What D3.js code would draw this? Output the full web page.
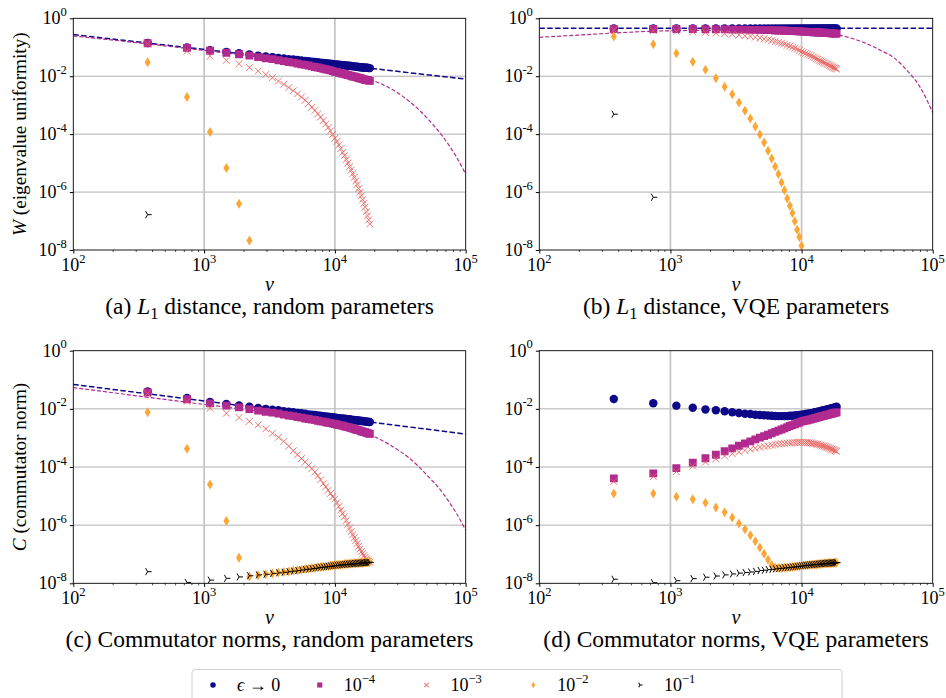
<!DOCTYPE html>
<html>
<head>
<meta charset="utf-8">
<script src="https://cdn.jsdelivr.net/npm/d3@7"></script>
</head>
<body style="margin:0">
<svg width="946" height="698"></svg>
<script>
// nu values (x axis), one per data point
const nu = [370, 740, 1110, 1480, 1850, 2220, 2590, 2960, 3330, 3700, 4070, 4440, 4810, 5180, 5550,
  5920, 6290, 6660, 7030, 7400, 7770, 8140, 8510, 8880, 9250, 9620, 9990, 10360, 10730, 11100,
  11470, 11840, 12210, 12580, 12950, 13320, 13690, 14060, 14430, 14800, 15170, 15540, 15910,
  16280, 16650, 17020, 17390, 17760, 18130, 18500];

// all y values are log10 of the plotted quantity; points below 10^-8 are not listed
// (a) L1 distance, random parameters
const aEps0 = [-0.85, -1.01, -1.10, -1.16, -1.21, -1.25, -1.29, -1.32, -1.34, -1.37, -1.39, -1.41, -1.42, -1.44, -1.46,
  -1.47, -1.48, -1.50, -1.51, -1.52, -1.53, -1.54, -1.55, -1.56, -1.57, -1.58, -1.59, -1.59, -1.60, -1.61,
  -1.62, -1.62, -1.63, -1.64, -1.64, -1.65, -1.66, -1.66, -1.67, -1.67, -1.68, -1.69, -1.69, -1.70, -1.70,
  -1.71, -1.71, -1.71, -1.72, -1.72];
const aE4 = [-0.86, -1.02, -1.12, -1.19, -1.24, -1.29, -1.34, -1.38, -1.41, -1.45, -1.48, -1.51, -1.53, -1.56, -1.59,
  -1.61, -1.63, -1.66, -1.68, -1.70, -1.72, -1.74, -1.76, -1.78, -1.80, -1.82, -1.85, -1.86, -1.88, -1.90,
  -1.91, -1.92, -1.94, -1.96, -1.97, -1.99, -2.01, -2.01, -2.03, -2.04, -2.06, -2.07, -2.08, -2.10, -2.11,
  -2.12, -2.13, -2.13, -2.15, -2.16];
const aE3 = [-0.88, -1.14, -1.31, -1.45, -1.57, -1.70, -1.82, -1.94, -2.05, -2.17, -2.28, -2.39, -2.50, -2.61, -2.72,
  -2.83, -2.94, -3.07, -3.18, -3.30, -3.41, -3.53, -3.65, -3.77, -3.89, -4.01, -4.14, -4.25, -4.37, -4.50,
  -4.63, -4.74, -4.87, -5.00, -5.12, -5.24, -5.37, -5.49, -5.62, -5.74, -5.88, -6.01, -6.13, -6.26, -6.39,
  -6.52, -6.68, -6.82, -6.96, -7.10];
const aE2 = [-1.52, -2.72, -3.93, -5.17, -6.40, -7.67];
const aE1 = [-6.78];
const aFitEps0Nu = [2, 5], aFitEps0 = [-0.563, -2.10];
const aFitE4Nu = [2, 2.5, 3, 3.5, 3.8, 4.0, 4.15, 4.29, 4.443, 4.57, 4.698, 4.824, 4.927, 5.0];
const aFitE4 = [-0.61, -0.85, -1.11, -1.39, -1.62, -1.84, -1.99, -2.15, -2.47, -2.87, -3.41, -4.08, -4.77, -5.38];

// (b) L1 distance, VQE parameters
const bEps0 = [-0.35, -0.35, -0.35, -0.35, -0.35, -0.35, -0.35, -0.35, -0.35, -0.35, -0.35, -0.35, -0.35, -0.35, -0.35,
  -0.35, -0.35, -0.35, -0.35, -0.35, -0.35, -0.35, -0.35, -0.35, -0.35, -0.35, -0.35, -0.35, -0.35, -0.35,
  -0.35, -0.35, -0.35, -0.35, -0.35, -0.35, -0.35, -0.35, -0.35, -0.35, -0.35, -0.35, -0.35, -0.35, -0.35,
  -0.35, -0.35, -0.35, -0.35, -0.35];
const bE4 = [-0.37, -0.37, -0.37, -0.37, -0.38, -0.38, -0.38, -0.39, -0.39, -0.39, -0.40, -0.40, -0.40, -0.41, -0.41,
  -0.41, -0.42, -0.42, -0.42, -0.43, -0.43, -0.44, -0.44, -0.44, -0.45, -0.45, -0.46, -0.46, -0.46, -0.47,
  -0.47, -0.47, -0.48, -0.48, -0.48, -0.49, -0.49, -0.49, -0.50, -0.50, -0.50, -0.51, -0.51, -0.51, -0.52,
  -0.52, -0.52, -0.53, -0.53, -0.53];
const bE3 = [-0.40, -0.43, -0.45, -0.47, -0.49, -0.51, -0.53, -0.55, -0.58, -0.60, -0.62, -0.65, -0.68, -0.71, -0.74,
  -0.77, -0.80, -0.83, -0.86, -0.89, -0.93, -0.96, -1.00, -1.03, -1.07, -1.11, -1.15, -1.18, -1.21, -1.24,
  -1.27, -1.30, -1.33, -1.36, -1.39, -1.42, -1.45, -1.48, -1.50, -1.53, -1.55, -1.58, -1.60, -1.63, -1.65,
  -1.67, -1.69, -1.71, -1.73, -1.75];
const bE2 = [-0.63, -0.90, -1.21, -1.50, -1.78, -2.07, -2.36, -2.62, -2.91, -3.19, -3.46, -3.74, -4.01, -4.29, -4.57,
  -4.84, -5.12, -5.38, -5.67, -5.94, -6.22, -6.47, -6.72, -7.01, -7.30, -7.55, -7.85];
const bE1 = [-3.31, -6.18];
const bFitEps0Nu = [2, 5], bFitEps0 = [-0.345, -0.345];
const bFitE4Nu = [2, 2.3, 2.6, 3.0, 3.5, 4.0, 4.27, 4.35, 4.5, 4.6, 4.7, 4.8, 4.9, 5.0];
const bFitE4 = [-0.655, -0.58, -0.50, -0.43, -0.41, -0.46, -0.56, -0.65, -0.88, -1.10, -1.35, -1.78, -2.35, -3.25];

// (c) Commutator norms, random parameters
const cEps0 = [-1.40, -1.63, -1.76, -1.83, -1.88, -1.93, -1.97, -2.00, -2.03, -2.05, -2.08, -2.10, -2.12, -2.14, -2.15,
  -2.17, -2.19, -2.20, -2.21, -2.23, -2.24, -2.25, -2.26, -2.27, -2.28, -2.29, -2.30, -2.31, -2.32, -2.33,
  -2.33, -2.34, -2.35, -2.36, -2.36, -2.37, -2.38, -2.38, -2.39, -2.40, -2.40, -2.41, -2.42, -2.42, -2.43,
  -2.43, -2.44, -2.44, -2.45, -2.45];
const cE4 = [-1.43, -1.67, -1.81, -1.89, -1.95, -2.01, -2.06, -2.10, -2.13, -2.16, -2.20, -2.23, -2.25, -2.28, -2.30,
  -2.33, -2.35, -2.37, -2.38, -2.41, -2.43, -2.44, -2.46, -2.48, -2.49, -2.51, -2.52, -2.54, -2.56, -2.57,
  -2.58, -2.60, -2.62, -2.63, -2.64, -2.66, -2.68, -2.69, -2.71, -2.72, -2.73, -2.75, -2.77, -2.78, -2.79,
  -2.80, -2.82, -2.83, -2.85, -2.86];
const cE3 = [-1.47, -1.75, -1.98, -2.15, -2.30, -2.43, -2.55, -2.69, -2.84, -2.98, -3.12, -3.28, -3.44, -3.58, -3.71,
  -3.83, -3.95, -4.06, -4.17, -4.30, -4.44, -4.57, -4.68, -4.80, -4.91, -5.02, -5.10, -5.23, -5.36, -5.48,
  -5.60, -5.71, -5.84, -5.97, -6.10, -6.22, -6.33, -6.43, -6.53, -6.63, -6.73, -6.82, -6.91, -6.98, -7.05,
  -7.11, -7.16, -7.20, -7.24, -7.28];
const cE2 = [-2.12, -3.37, -4.60, -5.86, -7.12, -7.77, -7.72, -7.69, -7.66, -7.63, -7.61, -7.59, -7.57, -7.55, -7.53,
  -7.51, -7.50, -7.48, -7.47, -7.45, -7.44, -7.43, -7.42, -7.41, -7.40, -7.39, -7.38, -7.37, -7.36, -7.36,
  -7.35, -7.34, -7.34, -7.33, -7.33, -7.32, -7.32, -7.31, -7.31, -7.30, -7.30, -7.30, -7.29, -7.29, -7.29,
  -7.28, -7.28, -7.28, -7.27, -7.27];
const cE1 = [-7.60, -7.97, -7.89, -7.83, -7.78, -7.74, -7.71, -7.69, -7.66, -7.64, -7.62, -7.60, -7.58, -7.56, -7.54,
  -7.52, -7.51, -7.49, -7.48, -7.46, -7.45, -7.44, -7.43, -7.42, -7.41, -7.40, -7.39, -7.38, -7.37, -7.37,
  -7.36, -7.35, -7.35, -7.34, -7.34, -7.33, -7.33, -7.32, -7.32, -7.31, -7.31, -7.31, -7.30, -7.30, -7.30,
  -7.29, -7.29, -7.29, -7.28, -7.28];
const cFitEps0Nu = [2, 5], cFitEps0 = [-1.16, -2.87];
const cFitE4Nu = [2, 2.5, 3, 3.5, 4.0, 4.15, 4.29, 4.443, 4.57, 4.698, 4.824, 4.927, 5.0];
const cFitE4 = [-1.27, -1.56, -1.85, -2.13, -2.50, -2.68, -2.93, -3.30, -3.70, -4.25, -4.89, -5.58, -6.17];

// (d) Commutator norms, VQE parameters
const dEps0 = [-1.66, -1.81, -1.89, -1.96, -2.02, -2.05, -2.08, -2.12, -2.14, -2.17, -2.18, -2.20, -2.21, -2.22, -2.23,
  -2.24, -2.245, -2.25, -2.25, -2.25, -2.25, -2.24, -2.235, -2.23, -2.22, -2.21, -2.20, -2.19, -2.18, -2.17,
  -2.16, -2.15, -2.14, -2.12, -2.11, -2.10, -2.09, -2.07, -2.06, -2.05, -2.04, -2.02, -2.01, -2.00, -1.99,
  -1.98, -1.97, -1.96, -1.94, -1.93];
const dE4 = [-4.39, -4.22, -4.04, -3.85, -3.70, -3.58, -3.46, -3.36, -3.27, -3.19, -3.12, -3.05, -2.99, -2.94, -2.89,
  -2.84, -2.79, -2.75, -2.71, -2.67, -2.63, -2.59, -2.56, -2.53, -2.50, -2.47, -2.44, -2.42, -2.40, -2.39,
  -2.37, -2.36, -2.34, -2.32, -2.31, -2.29, -2.28, -2.26, -2.25, -2.24, -2.22, -2.21, -2.20, -2.19, -2.18,
  -2.16, -2.15, -2.14, -2.13, -2.12];
const dE3 = [-4.50, -4.33, -4.16, -3.97, -3.83, -3.72, -3.62, -3.54, -3.48, -3.43, -3.39, -3.35, -3.32, -3.29, -3.27,
  -3.25, -3.23, -3.21, -3.20, -3.19, -3.18, -3.17, -3.165, -3.16, -3.155, -3.15, -3.15, -3.15, -3.155, -3.16,
  -3.17, -3.18, -3.19, -3.20, -3.21, -3.22, -3.24, -3.25, -3.27, -3.28, -3.30, -3.32, -3.33, -3.35, -3.37,
  -3.39, -3.40, -3.42, -3.44, -3.46];
const dE2 = [-4.91, -4.91, -5.02, -5.11, -5.23, -5.39, -5.56, -5.74, -5.94, -6.14, -6.35, -6.55, -6.77, -6.98, -7.19,
  -7.37, -7.46, -7.47, -7.47, -7.46, -7.46, -7.45, -7.44, -7.43, -7.42, -7.41, -7.40, -7.39, -7.38, -7.38,
  -7.37, -7.36, -7.36, -7.35, -7.35, -7.34, -7.34, -7.33, -7.33, -7.32, -7.32, -7.31, -7.31, -7.31, -7.30,
  -7.30, -7.30, -7.29, -7.29, -7.29];
const dE1 = [-7.86, -7.98, -7.91, -7.84, -7.79, -7.75, -7.71, -7.68, -7.65, -7.63, -7.61, -7.59, -7.56, -7.55, -7.53,
  -7.52, -7.50, -7.49, -7.48, -7.47, -7.46, -7.45, -7.44, -7.43, -7.42, -7.41, -7.40, -7.39, -7.38, -7.38,
  -7.37, -7.36, -7.36, -7.35, -7.35, -7.34, -7.34, -7.33, -7.33, -7.32, -7.32, -7.31, -7.31, -7.31, -7.30,
  -7.30, -7.30, -7.30, -7.29, -7.29];

// axis tick exponents and legend labels
const xTickExp = [2, 3, 4, 5];
const yTickExp = [0, -2, -4, -6, -8];
const legendExp = [null, "\u22124", "\u22123", "\u22122", "\u22121"];

const svg = d3.select("svg");
const defs = svg.append("defs");

// marker styles, in the order epsilon -> 0, 1e-4, 1e-3, 1e-2, 1e-1
const markers = [
  { color: "#0d0887", path: d3.symbol(d3.symbolCircle, 56)(), filled: true },
  { color: "#b12a90", path: d3.symbol(d3.symbolSquare, 62)(), filled: true },
  { color: "#e8605c", path: "M-3.4,-3.4L3.4,3.4M-3.4,3.4L3.4,-3.4", filled: false, opacity: 0.85 },
  { color: "#fca636", path: "M0,-5L3,0L0,5L-3,0Z", filled: true },
  { color: "#000000", path: "M0,0L4,0M0,0L-2,-3.5M0,0L-2,3.5", filled: false }
];

const panels = [
  { id: "a", left: 73.3, right: 465.7, top: 18.3, bottom: 250,
    series: [aEps0, aE4, aE3, aE2, aE1],
    fits: [[aFitEps0Nu, aFitEps0], [aFitE4Nu, aFitE4]],
    ylab: ["W", "\u00a0(eigenvalue uniformity)"],
    cap: ["(a)\u00a0", "L", "1", "\u00a0distance, random parameters"] },
  { id: "b", left: 539.3, right: 932.7, top: 18.3, bottom: 250,
    series: [bEps0, bE4, bE3, bE2, bE1],
    fits: [[bFitEps0Nu, bFitEps0], [bFitE4Nu, bFitE4]],
    ylab: null,
    cap: ["(b)\u00a0", "L", "1", "\u00a0distance, VQE parameters"] },
  { id: "c", left: 73.3, right: 465.7, top: 350.7, bottom: 583.3,
    series: [cEps0, cE4, cE3, cE2, cE1],
    fits: [[cFitEps0Nu, cFitEps0], [cFitE4Nu, cFitE4]],
    ylab: ["C", "\u00a0(commutator norm)"],
    cap: ["(c) Commutator norms, random parameters"] },
  { id: "d", left: 539.3, right: 932.7, top: 350.7, bottom: 583.3,
    series: [dEps0, dE4, dE3, dE2, dE1],
    fits: [],
    ylab: null,
    cap: ["(d) Commutator norms, VQE parameters"] }
];

const fitStyles = [
  { color: "#0d0887", width: 1.5, dash: "5.5,2.4" },
  { color: "#b12a90", width: 1.2, dash: "4,2" }
];

// plain text placed straight on the svg, serif family on the element itself
function txt(x, y, s, size, italic, transform) {
  const t = svg.append("text")
    .attr("x", x).attr("y", y).attr("font-size", size)
    .attr("font-family", "Liberation Serif")
    .style("font-family", '"Liberation Serif"')
    .text(s);
  if (italic) t.style("font-style", "italic");
  if (transform) t.attr("transform", transform);
  return t;
}

// several pieces laid side by side (for super- and subscripts)
function pieces(x, y, parts, anchor, transform) {
  const nodes = parts.map(p => txt(0, y + (p.dy || 0), p.s, p.size, p.italic, transform));
  const widths = nodes.map(n => n.node().getComputedTextLength());
  const total = d3.sum(widths);
  let pos = anchor === "middle" ? x - total / 2 : anchor === "end" ? x - total : x;
  nodes.forEach((n, i) => { n.attr("x", pos); pos += widths[i]; });
}

function power(x, y, base, exp, anchor, size, supSize, lift) {
  pieces(x, y, [{ s: base, size: size }, { s: exp, size: supSize, dy: -lift }], anchor);
}

function drawMarker(sel, m, scale) {
  sel.attr("d", m.path)
    .attr("fill", m.filled ? m.color : "none")
    .attr("stroke", m.filled ? "none" : m.color)
    .attr("stroke-width", m.filled ? 0 : 1 / scale)
    .attr("opacity", m.opacity || 1);
}

function drawPanel(p) {
  const x = d3.scaleLog().domain([1e2, 1e5]).range([p.left, p.right]);
  const y = d3.scaleLog().domain([1e-8, 1]).range([p.bottom, p.top]);
  const g = svg.append("g");

  defs.append("clipPath").attr("id", "clip-" + p.id)
    .append("rect")
    .attr("x", p.left).attr("y", p.top)
    .attr("width", p.right - p.left).attr("height", p.bottom - p.top);

  // grid
  g.selectAll("line.hgrid").data(yTickExp.slice(1, -1)).enter().append("line")
    .attr("x1", p.left).attr("x2", p.right)
    .attr("y1", d => y(10 ** d)).attr("y2", d => y(10 ** d))
    .attr("stroke", "#b0b0b0").attr("stroke-width", 1);
  g.selectAll("line.vgrid").data(xTickExp.slice(1, -1)).enter().append("line")
    .attr("x1", d => x(10 ** d)).attr("x2", d => x(10 ** d))
    .attr("y1", p.top).attr("y2", p.bottom)
    .attr("stroke", "#c4c4c4").attr("stroke-width", 1.7);

  const plot = g.append("g").attr("clip-path", `url(#clip-${p.id})`);

  // fitted curves
  const line = d3.line().x(d => x(10 ** d[0])).y(d => y(10 ** d[1])).curve(d3.curveMonotoneX);
  p.fits.forEach((f, i) => {
    const pts = f[0].map((v, j) => [v, f[1][j]]);
    plot.append("path").attr("d", line(pts))
      .attr("fill", "none")
      .attr("stroke", fitStyles[i].color)
      .attr("stroke-width", fitStyles[i].width)
      .attr("stroke-dasharray", fitStyles[i].dash);
  });

  // data points
  p.series.forEach((vals, i) => {
    const pts = vals.map((v, j) => [nu[j], v]);
    plot.append("g").selectAll("path").data(pts).enter().append("path")
      .attr("transform", d => `translate(${x(d[0])},${y(10 ** d[1])})`)
      .call(drawMarker, markers[i], 1);
  });

  // frame
  g.append("rect")
    .attr("x", p.left).attr("y", p.top)
    .attr("width", p.right - p.left).attr("height", p.bottom - p.top)
    .attr("fill", "none").attr("stroke", "#000").attr("stroke-width", 0.9);

  // ticks
  const minors = [];
  [2, 3, 4].forEach(e => { for (let m = 2; m <= 9; m++) minors.push(m * 10 ** e); });
  const tickLines = (sel) => { sel.select(".domain").remove(); sel.selectAll("text").remove(); };
  g.append("g").attr("transform", `translate(0,${p.bottom})`)
    .call(d3.axisBottom(x).tickValues(xTickExp.map(e => 10 ** e)).tickSize(3.5))
    .call(tickLines);
  g.append("g").attr("transform", `translate(0,${p.bottom})`)
    .call(d3.axisBottom(x).tickValues(minors).tickSize(2))
    .call(tickLines)
    .selectAll("line").attr("stroke-width", 0.7);
  g.append("g").attr("transform", `translate(${p.left},0)`)
    .call(d3.axisLeft(y).tickValues(yTickExp.map(e => 10 ** e)).tickSize(3.5))
    .call(tickLines);

  // tick labels
  xTickExp.forEach(e => power(x(10 ** e), p.bottom + 20.5, "10", String(e), "middle", 18, 12.5, 8));
  yTickExp.forEach(e => power(p.left - 6.5, y(10 ** e) + 6, "10", e === 0 ? "0" : "-" + (-e), "end", 18, 12.5, 8.5));

  // axis labels
  const cx = (p.left + p.right) / 2;
  txt(cx, p.bottom + 40.5, "\u03bd", 20, true).attr("text-anchor", "middle");
  if (p.ylab) {
    const cy = (p.top + p.bottom) / 2;
    pieces(-cy, 26, [{ s: p.ylab[0], size: 19.2, italic: true }, { s: p.ylab[1], size: 19.2 }], "middle", "rotate(-90)");
  }

  // caption
  if (p.cap.length === 1) {
    txt(cx, p.bottom + 64, p.cap[0], 23.5).attr("text-anchor", "middle");
  } else {
    pieces(cx, p.bottom + 64, [
      { s: p.cap[0], size: 23.5 },
      { s: p.cap[1], size: 23.5, italic: true },
      { s: p.cap[2], size: 16.5, dy: 4.5 },
      { s: p.cap[3], size: 23.5 }
    ], "middle");
  }
}

panels.forEach(drawPanel);

// legend
const leg = svg.append("g");
leg.append("rect").attr("x", 192).attr("y", 669.5).attr("width", 650).attr("height", 40)
  .attr("rx", 3).attr("fill", "#fff").attr("stroke", "#d0d0d0").attr("stroke-width", 1);
const legX = d3.scaleLinear().domain([0, 4]).range([213, 640]);
legendExp.forEach((lab, i) => {
  const mx = legX(i);
  leg.append("path").attr("transform", `translate(${mx},685) scale(0.65)`)
    .call(drawMarker, markers[i], 0.65);
  if (lab === null) {
    pieces(mx + 24, 691, [{ s: "\u03f5", size: 18, italic: true }, { s: "\u00a0\u2192\u00a00", size: 18 }], "start");
  } else {
    power(mx + 24, 691, "10", lab, "start", 18, 12.5, 8);
  }
});
</script>
</body>
</html>
